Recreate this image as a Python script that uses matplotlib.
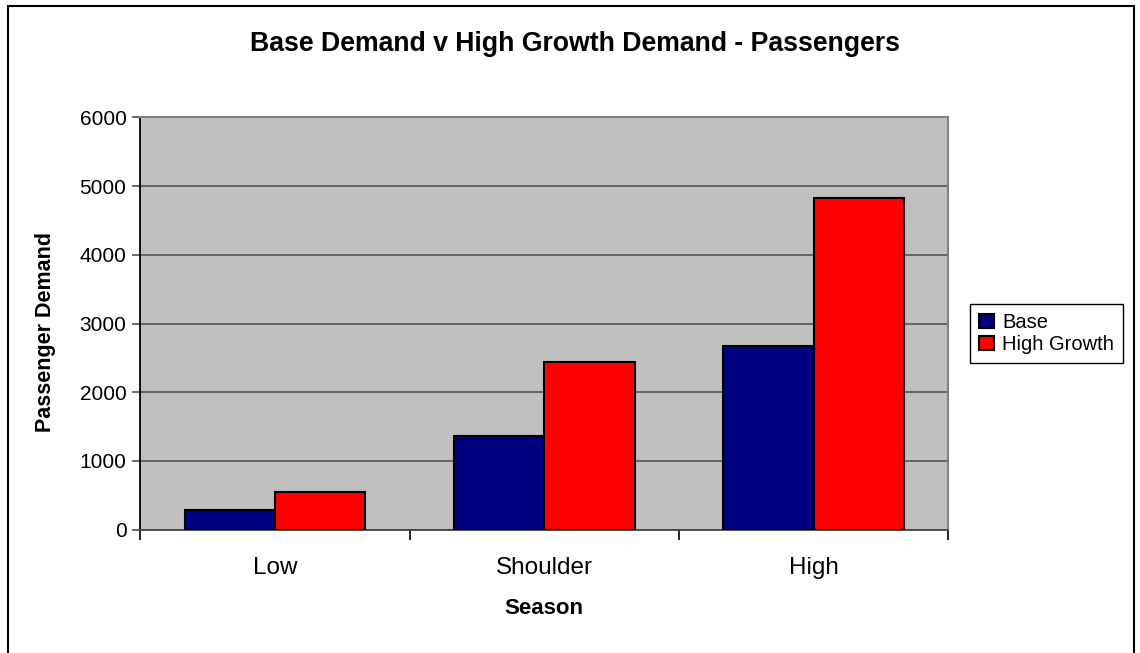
import matplotlib.pyplot as plt
import matplotlib.patches as patches
import numpy as np

# data
seasons = ['Low', 'Shoulder', 'High']
base = [287, 1363, 2673]
high_growth = [549, 2440, 4823]
series_names = ['Base', 'High Growth']
y_ticks = [0, 1000, 2000, 3000, 4000, 5000, 6000]

plt.rcParams['font.family'] = ['Liberation Sans', 'DejaVu Sans']

W, H = 1140, 653
fig = plt.figure(figsize=(W / 100, H / 100), dpi=100)
fig.patch.set_facecolor('white')

# plot area (pixels measured on the reference)
left, right, top, bottom = 140.3, 948.3, 117.3, 529.7
ax = fig.add_axes([left / W, 1 - bottom / H, (right - left) / W, (bottom - top) / H])
ax.set_facecolor('#c0c0c0')

x = np.arange(len(seasons))
w = 0.335
b1 = ax.bar(x - w / 2, base, w, color='#000080', edgecolor='black', linewidth=1.5, zorder=3)
b2 = ax.bar(x + w / 2, high_growth, w, color='#ff0000', edgecolor='black', linewidth=1.5, zorder=3)

ax.set_xlim(-0.5, len(seasons) - 0.5)
ax.set_ylim(0, 6000)
ax.set_yticks(y_ticks)
ax.set_yticklabels([str(v) for v in y_ticks], fontsize=15)
ax.yaxis.grid(True, color='#555555', linewidth=1.2, zorder=1)
ax.set_axisbelow(True)

ax.set_xticks(x)
ax.set_xticklabels(seasons, fontsize=17.5)
ax.set_xticks(np.arange(-0.5, len(seasons)), minor=True)
ax.tick_params(axis='x', which='major', length=0, pad=20)
ax.tick_params(axis='x', which='minor', length=7, width=1.2, color='black', direction='out')
ax.tick_params(axis='y', length=6, width=1.2, color='#555555', pad=4)

ax.spines['left'].set_color('black')
ax.spines['left'].set_linewidth(1.3)
ax.spines['bottom'].set_color('#444444')
ax.spines['bottom'].set_linewidth(1.3)
for s in ['top', 'right']:
    ax.spines[s].set_color('#808080')
    ax.spines[s].set_linewidth(1.5)

ax.set_xlabel('Season', fontsize=16, fontweight='bold', labelpad=13)
ax.set_ylabel('Passenger Demand', fontsize=15.5, fontweight='bold')
ax.yaxis.set_label_coords((56 - left) / (right - left), (bottom - 332) / (bottom - top))

fig.text(575 / W, 1 - 44 / H, 'Base Demand v High Growth Demand - Passengers',
         ha='center', va='center', fontsize=19.2, fontweight='bold')

leg = fig.legend([b1, b2], series_names, loc='upper left',
                 bbox_to_anchor=(970 / W, 1 - 304 / H), fontsize=14.5,
                 frameon=True, fancybox=False, edgecolor='black', framealpha=1,
                 handlelength=0.75, handleheight=0.75, handletextpad=0.4,
                 borderpad=0.45, labelspacing=0.15, borderaxespad=0)
leg.get_frame().set_linewidth(1.0)

# outer chart border
fig.patches.append(patches.Rectangle((8 / W, -0.05), (1134 - 8) / W, 1.05 - 6 / H,
                                     transform=fig.transFigure, fill=False,
                                     edgecolor='black', linewidth=1.5))

fig.savefig('out.png', dpi=100)
